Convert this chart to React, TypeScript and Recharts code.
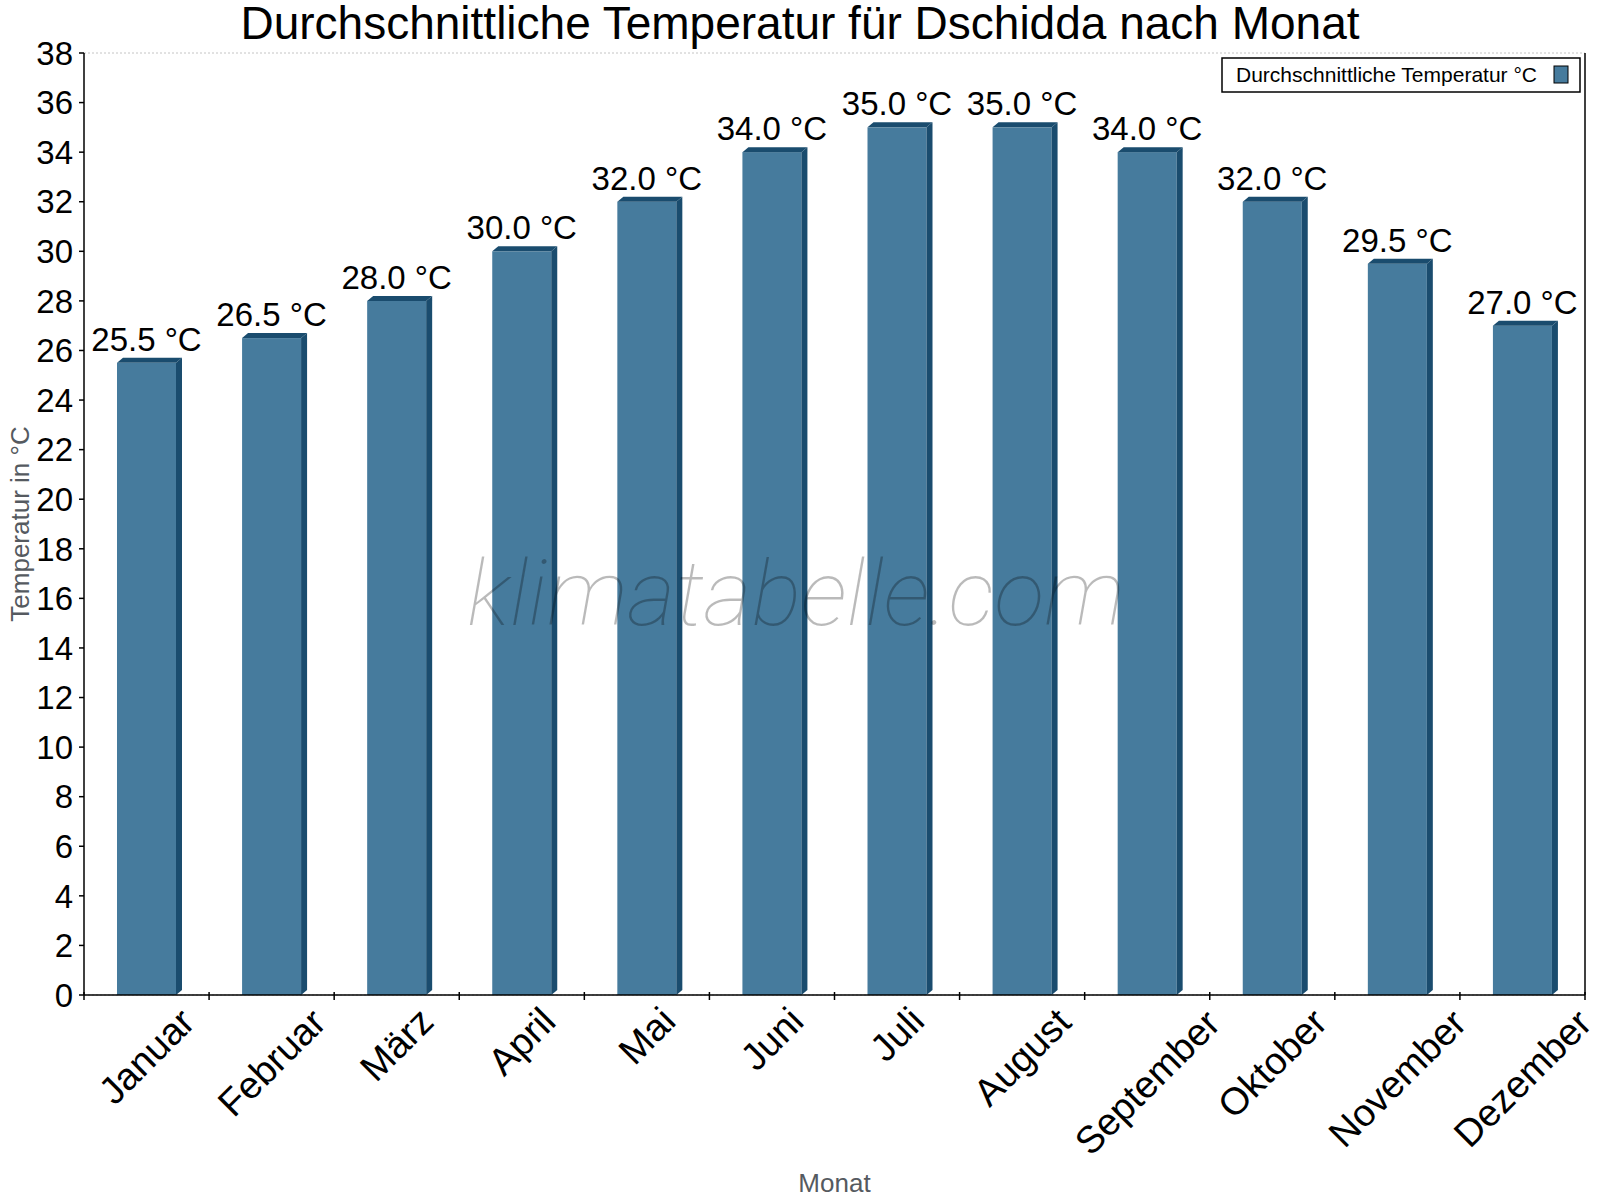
import React from 'react';
import { BarChart, Bar, XAxis, YAxis, CartesianGrid, LabelList, Customized } from 'recharts';

const months = ['Januar', 'Februar', 'März', 'April', 'Mai', 'Juni', 'Juli', 'August', 'September', 'Oktober', 'November', 'Dezember'];
const temps = [25.5, 26.5, 28.0, 30.0, 32.0, 34.0, 35.0, 35.0, 34.0, 32.0, 29.5, 27.0];
const yTicks = [0, 2, 4, 6, 8, 10, 12, 14, 16, 18, 20, 22, 24, 26, 28, 30, 32, 34, 36, 38];
const titleText = 'Durchschnittliche Temperatur für Dschidda nach Monat';
const seriesName = 'Durchschnittliche Temperatur °C';
const xAxisName = 'Monat';
const yAxisName = 'Temperatur in °C';
const watermarkText = 'klimatabelle.com';

const data = months.map((m, i) => ({ month: m, temp: temps[i] }));

const W = 1600;
const H = 1200;
const PLOT_LEFT = 84;
const PLOT_RIGHT = 1585;
const PLOT_TOP = 53;
const PLOT_BOTTOM = 995;
const BAND = (PLOT_RIGHT - PLOT_LEFT) / months.length;
const FONT = '"Liberation Sans", Arial, Helvetica, sans-serif';
const FRONT = '#467B9D';
const DARK = '#1A4C6E';
const DX = 6;
const DY = 5;
const XTICK_FS = 38;

let ctx: CanvasRenderingContext2D | null = null;
function measure(text: string, size: number): number {
  if (typeof document === 'undefined') return text.length * size * 0.55;
  if (!ctx) ctx = document.createElement('canvas').getContext('2d');
  if (!ctx) return text.length * size * 0.55;
  ctx.font = `${size}px "Liberation Sans", Arial, sans-serif`;
  return ctx.measureText(text).width;
}

const Bar3D = (props: any) => {
  const { x, y, width, height } = props;
  if (width == null || height == null) return null;
  const r = x + width;
  const b = y + height;
  return (
    <g>
      <rect x={x} y={y} width={width} height={height} fill={FRONT} />
      <polygon points={`${r},${y} ${r + DX},${y - DY} ${r + DX},${b - DY} ${r},${b}`} fill={DARK} />
      <polygon points={`${x},${y} ${x + DX},${y - DY} ${r + DX},${y - DY} ${r},${y}`} fill={DARK} />
    </g>
  );
};

const ValueLabel = (props: any) => {
  const { x, y, width, value } = props;
  return (
    <text x={x + width / 2} y={y - 12} textAnchor="middle" fontSize={33} fill="#000" fontFamily={FONT}>
      {`${Number(value).toFixed(1)} °C`}
    </text>
  );
};

const MonthTick = (props: any) => {
  const { x, payload, index } = props;
  const label = String(payload.value);
  const w = measure(label, XTICK_FS);
  const cy = 1013 + 0.373 * w;
  const left = x - BAND / 2;
  return (
    <g>
      <line x1={left} y1={PLOT_BOTTOM - 3} x2={left} y2={PLOT_BOTTOM + 5} stroke="#000" strokeWidth={1.5} />
      {index === months.length - 1 && (
        <line x1={x + BAND / 2} y1={PLOT_BOTTOM - 3} x2={x + BAND / 2} y2={PLOT_BOTTOM + 5} stroke="#000" strokeWidth={1.5} />
      )}
      <text
        x={x}
        y={cy}
        textAnchor="middle"
        dominantBaseline="central"
        fontSize={XTICK_FS}
        fill="#000"
        fontFamily={FONT}
        transform={`rotate(-45, ${x}, ${cy})`}
      >
        {label}
      </text>
    </g>
  );
};

const Decorations = () => {
  const midX = (PLOT_LEFT + PLOT_RIGHT) / 2;
  const midY = (PLOT_TOP + PLOT_BOTTOM) / 2;
  return (
    <g>
      <text x={W / 2} y={39} textAnchor="middle" fontSize={46} fill="#000" fontFamily={FONT}>
        {titleText}
      </text>
      <text
        x={29}
        y={midY}
        textAnchor="middle"
        fontSize={26}
        fill="#555a60"
        fontFamily={FONT}
        transform={`rotate(-90, 29, ${midY})`}
      >
        {yAxisName}
      </text>
      <text x={midX} y={1192} textAnchor="middle" fontSize={26} fill="#555a60" fontFamily={FONT}>
        {xAxisName}
      </text>
      <g>
        <rect x={1222} y={58} width={358} height={34} fill="#fff" stroke="#000" strokeWidth={1.5} />
        <text x={1236} y={82} fontSize={21} fill="#000" fontFamily={FONT}>
          {seriesName}
        </text>
        <rect x={1554} y={66} width={14} height={17} fill={FRONT} stroke="#000" strokeWidth={1} />
      </g>
    </g>
  );
};

export default function App() {
  return (
    <div style={{ position: 'absolute', left: 0, top: 0, width: W, height: H, background: '#fff', fontFamily: FONT }}>
      <BarChart width={W} height={H} data={data} margin={{ top: PLOT_TOP, right: W - PLOT_RIGHT - 1, bottom: 0, left: 0 }}>
        <CartesianGrid vertical={false} stroke="#c4c4c4" strokeDasharray="2 2" />
        <XAxis
          dataKey="month"
          interval={0}
          height={H - PLOT_BOTTOM}
          tickLine={false}
          axisLine={{ stroke: '#000', strokeWidth: 1.5 }}
          tick={<MonthTick />}
        />
        <YAxis
          yAxisId="left"
          domain={[0, 38]}
          ticks={yTicks}
          width={PLOT_LEFT}
          tickSize={5}
          tickMargin={6}
          interval={0}
          axisLine={{ stroke: '#000', strokeWidth: 1.5 }}
          tickLine={{ stroke: '#000', strokeWidth: 1.5 }}
          tick={{ fontSize: 33, fill: '#000', fontFamily: FONT }}
        />
        <YAxis
          yAxisId="right"
          orientation="right"
          domain={[0, 38]}
          width={1}
          tick={false}
          tickLine={false}
          axisLine={{ stroke: '#000', strokeWidth: 1.5 }}
        />
        <Bar yAxisId="left" dataKey="temp" barSize={59} fill={FRONT} isAnimationActive={false} shape={<Bar3D />}>
          <LabelList dataKey="temp" content={<ValueLabel />} />
        </Bar>
        <Customized component={<Decorations />} />
      </BarChart>
      <svg
        width={W}
        height={H}
        style={{ position: 'absolute', left: 0, top: 0, pointerEvents: 'none' }}
      >
        <text
          x={467}
          y={625}
          fontSize={90}
          fontStyle="italic"
          fontWeight={100}
          fill="rgba(0,0,0,0.27)"
          fontFamily='Roboto, "Noto Sans", sans-serif'
          textLength={658}
          lengthAdjust="spacingAndGlyphs"
        >
          {watermarkText}
        </text>
      </svg>
    </div>
  );
}
